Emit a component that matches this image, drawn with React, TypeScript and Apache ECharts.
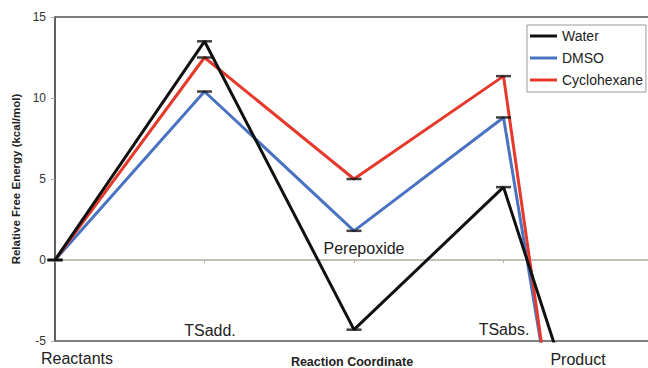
import React, { useEffect, useRef } from "react";
import * as echarts from "echarts";

// Reaction profile: relative free energy (kcal/mol) along the reaction coordinate
const categories = ["Reactants", "TSadd.", "Perepoxide", "TSabs.", "Product"];
const water = [0, 13.5, -4.3, 4.5, -24];
const dmso = [0, 10.4, 1.8, 8.8, -47];
const cyclohexane = [0, 12.5, 5.0, 11.35, -53.5];
const yTicks = [-5, 0, 5, 10, 15];
const seriesNames = ["Water", "DMSO", "Cyclohexane"];

const FONT = "'Liberation Sans', Arial, sans-serif";

export default function App() {
  const ref = useRef<HTMLDivElement>(null);

  useEffect(() => {
    if (!ref.current) return;
    const chart = echarts.init(ref.current, null, { renderer: "svg" });

    // short black caps at every stationary point (all but the product end)
    const caps: number[][] = [];
    [water, dmso, cyclohexane].forEach((arr) => {
      arr.slice(0, 4).forEach((v, i) => caps.push([i, v]));
    });

    const stageText = (text: string, x: number, y: number) => ({
      type: "text",
      x,
      y,
      style: {
        text,
        font: `16px ${FONT}`,
        fill: "#222",
        textAlign: "center",
        textVerticalAlign: "middle",
      },
      z: 20,
    });

    chart.setOption({
      animation: false,
      grid: {
        left: 55,
        top: 17,
        right: 3,
        bottom: 27,
        show: true,
        borderColor: "#555",
        borderWidth: 1.5,
        backgroundColor: "#fff",
      },
      legend: {
        data: seriesNames,
        orient: "vertical",
        left: 527,
        top: 25,
        padding: [4, 3, 5, 3],
        itemGap: 8,
        itemWidth: 27,
        itemHeight: 3,
        icon: "rect",
        backgroundColor: "#fff",
        borderColor: "#999",
        borderWidth: 1,
        borderRadius: 0,
        textStyle: { fontFamily: FONT, fontSize: 14, color: "#222", padding: [0, 0, 0, 0] },
      },
      xAxis: {
        type: "category",
        data: categories,
        boundaryGap: false,
        axisLine: { onZero: true, lineStyle: { color: "#b2aaa3", width: 1.5 } },
        axisTick: { show: true, length: 3, lineStyle: { color: "#aaa" } },
        axisLabel: { show: false },
        splitLine: { show: false },
      },
      yAxis: {
        type: "value",
        min: yTicks[0],
        max: yTicks[yTicks.length - 1],
        interval: 5,
        name: "Relative Free Energy (kcal/mol)",
        nameLocation: "middle",
        nameRotate: 90,
        nameGap: 31,
        nameTextStyle: { fontFamily: FONT, fontSize: 11.5, fontWeight: "bold", color: "#222" },
        axisLine: { show: true, lineStyle: { color: "#555", width: 1.5 } },
        axisTick: { show: true, length: 4, lineStyle: { color: "#aaa" } },
        axisLabel: { fontFamily: FONT, fontSize: 12, color: "#333", margin: 9 },
        splitLine: { show: false },
      },
      series: [
        {
          name: "Water",
          type: "line",
          data: water,
          symbol: "none",
          z: 5,
          lineStyle: { color: "#111", width: 3 },
          itemStyle: { color: "#111" },
        },
        {
          name: "DMSO",
          type: "line",
          data: dmso,
          symbol: "none",
          z: 3,
          lineStyle: { color: "#4a72c2", width: 3 },
          itemStyle: { color: "#4a72c2" },
        },
        {
          name: "Cyclohexane",
          type: "line",
          data: cyclohexane,
          symbol: "none",
          z: 4,
          lineStyle: { color: "#e5392c", width: 3 },
          itemStyle: { color: "#e5392c" },
        },
        {
          name: "caps",
          type: "scatter",
          data: caps,
          symbol: "rect",
          symbolSize: [15, 2.5],
          itemStyle: { color: "#111" },
          z: 10,
          silent: true,
        },
      ],
      graphic: [
        stageText(categories[0], 77, 358),
        stageText(categories[1], 210, 330),
        stageText(categories[2], 364, 248),
        stageText(categories[3], 504, 329),
        stageText(categories[4], 578, 359),
        {
          type: "text",
          x: 352,
          y: 362,
          style: {
            text: "Reaction Coordinate",
            font: `bold 12.5px ${FONT}`,
            fill: "#222",
            textAlign: "center",
            textVerticalAlign: "middle",
          },
          z: 20,
        },
      ],
    });

    return () => chart.dispose();
  }, []);

  // the plot runs a few pixels past the right edge of the window, so the
  // product end of the profile sits just outside the visible frame
  return (
    <div
      ref={ref}
      style={{ position: "fixed", left: 0, top: 0, width: 656, height: 368, background: "#fff" }}
    />
  );
}
